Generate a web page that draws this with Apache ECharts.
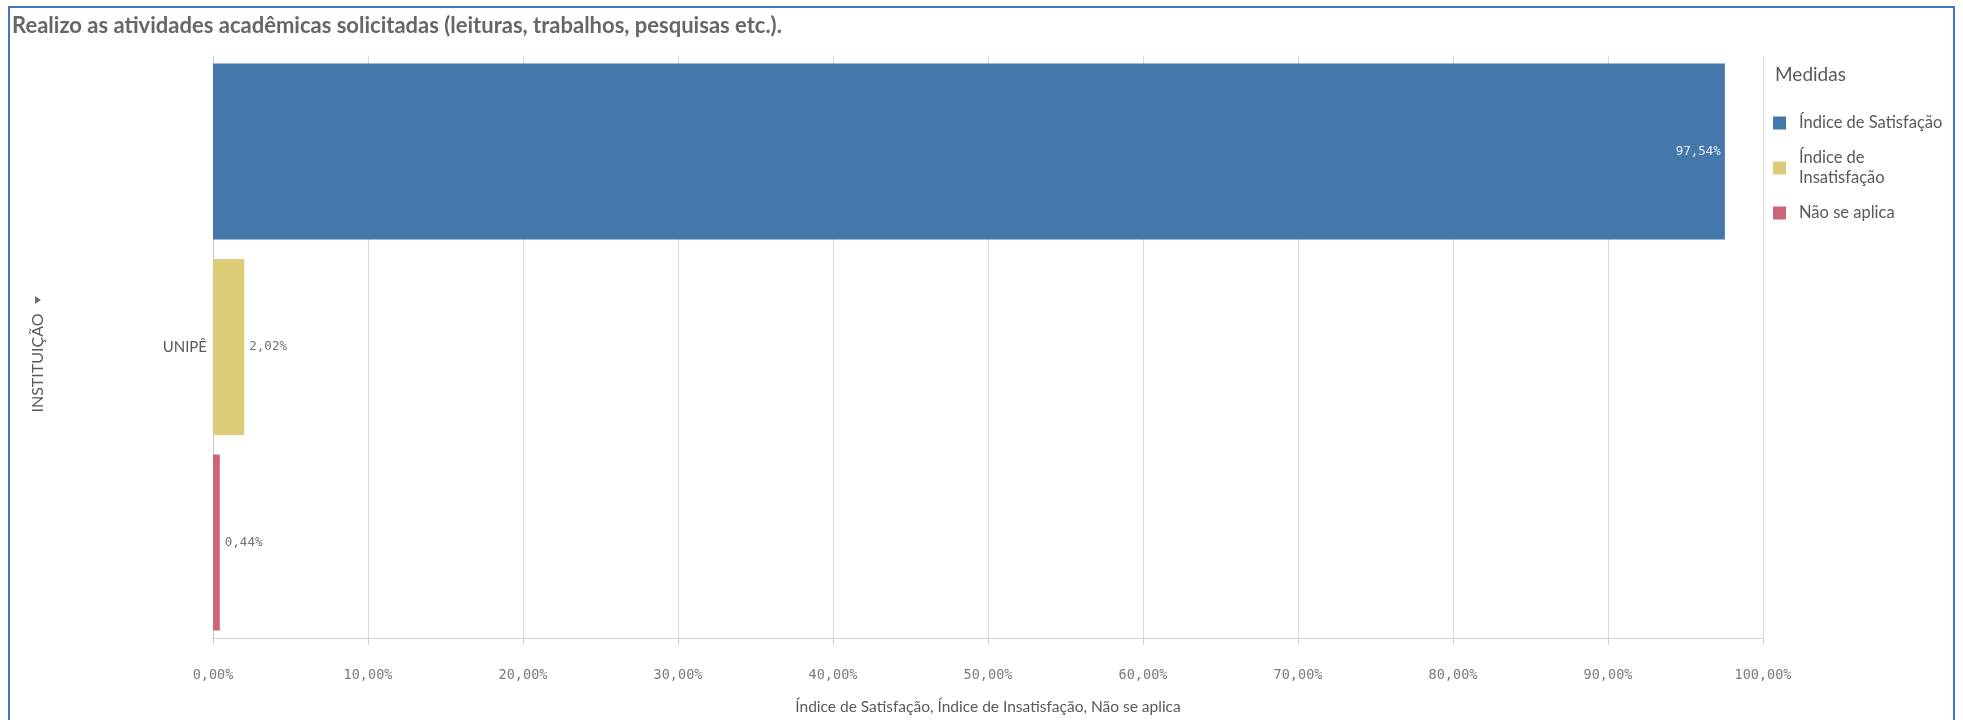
<!DOCTYPE html>
<html>
<head>
<meta charset="utf-8">
<script src="https://cdn.jsdelivr.net/npm/echarts@6/dist/echarts.min.js"></script>
<style>
html,body{margin:0;padding:0;background:#fff;}
#chart{width:1963px;height:720px;}
</style>
</head>
<body>
<div id="chart"></div>
<script>
const titleText = 'Realizo as atividades acadêmicas solicitadas (leituras, trabalhos, pesquisas etc.).';
const categories = ['UNIPÊ'];
const seriesNames = ['Índice de Satisfação', 'Índice de Insatisfação', 'Não se aplica'];
const satisfacao = [97.54];
const insatisfacao = [2.02];
const naoSeAplica = [0.44];
const legendTitle = 'Medidas';
const dimensionName = 'INSTITUIÇÃO';
const colors = ['#4477aa', '#ddcc77', '#cc6677'];

const sans = 'Lato, "Open Sans", sans-serif';
const mono = '"DejaVu Sans Mono", "Liberation Mono", monospace';
const fmt = v => v.toFixed(2).replace('.', ',') + '%';

const chart = echarts.init(document.getElementById('chart'));
const values = [satisfacao, insatisfacao, naoSeAplica];

const series = seriesNames.map((name, i) => ({
  name: name,
  type: 'bar',
  data: values[i],
  barGap: '11%',
  barCategoryGap: '2.6%',
  itemStyle: { color: colors[i] },
  label: {
    show: true,
    position: i === 0 ? 'insideRight' : 'right',
    distance: i === 0 ? 4 : 5,
    color: i === 0 ? '#e6edf5' : '#707070',
    fontFamily: mono,
    fontSize: 12.5,
    formatter: p => fmt(p.value)
  }
}));

chart.setOption({
  animation: false,
  textStyle: { fontFamily: sans },
  grid: { left: 213, right: 200, top: 56, bottom: 79, containLabel: false },
  xAxis: {
    type: 'value',
    min: 0, max: 100, interval: 10,
    name: seriesNames.join(', '),
    nameLocation: 'middle',
    nameGap: 61,
    nameTextStyle: { color: '#595959', fontSize: 15.5, fontFamily: sans },
    axisLine: { show: true, lineStyle: { color: '#d0d0d0', width: 1 } },
    axisTick: { show: true, length: 7, lineStyle: { color: '#d0d0d0' } },
    splitLine: { show: true, lineStyle: { color: '#d9d9d9', width: 1 } },
    axisLabel: { color: '#7a7a7a', fontFamily: mono, fontSize: 13.5, margin: 30, formatter: v => fmt(v) }
  },
  yAxis: {
    type: 'category',
    data: categories,
    inverse: true,
    axisLine: { show: true, lineStyle: { color: '#c8c8c8' } },
    axisTick: { show: false },
    axisLabel: { color: '#595959', fontSize: 15, fontFamily: sans, margin: 6 }
  },
  legend: {
    orient: 'vertical',
    left: 1773,
    top: 113,
    padding: 0,
    itemWidth: 13,
    itemHeight: 13,
    itemGap: 15,
    icon: 'rect',
    data: seriesNames,
    formatter: n => n === 'Índice de Insatisfação' ? 'Índice de\nInsatisfação' : n,
    textStyle: { color: '#595959', fontSize: 16.5, fontFamily: sans, lineHeight: 20, padding: [0, 0, 0, 8] }
  },
  graphic: [
    { type: 'polyline', silent: true,
      shape: { points: [[9, 720], [9, 7], [1954, 7], [1954, 720]] },
      style: { stroke: '#4472c4', lineWidth: 2, fill: null } },
    { type: 'text', left: 12, top: 15,
      style: { text: titleText, fill: '#666666', font: 'bold 22px ' + sans } },
    { type: 'text', left: 1775, top: 65,
      style: { text: legendTitle, fill: '#595959', font: '19px ' + sans } },
    { type: 'text', x: 38, y: 363, rotation: Math.PI / 2,
      style: { text: dimensionName, fill: '#595959', font: '16px ' + sans, align: 'center', verticalAlign: 'middle' } },
    { type: 'polygon', silent: true,
      shape: { points: [[35, 296], [41, 300], [35, 304]] },
      style: { fill: '#707070' } }
  ],
  series: series
});
</script>
</body>
</html>
